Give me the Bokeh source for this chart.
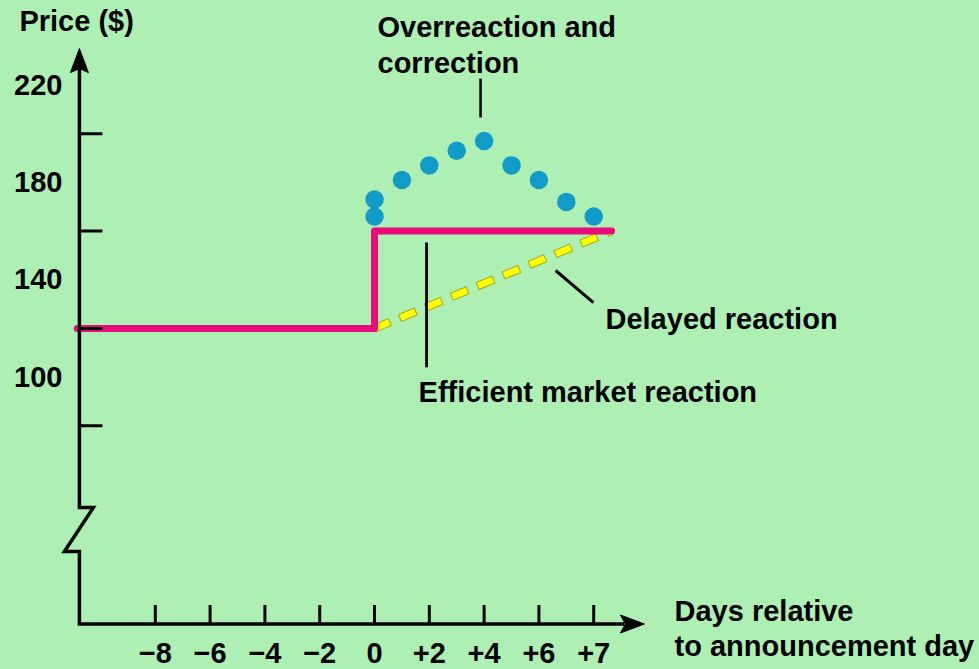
from bokeh.plotting import figure
from bokeh.models import Range1d
from bokeh.core.properties import value
from bokeh.embed import file_html
from bokeh.resources import INLINE

# ---------------- data ----------------
day_tick_pos = [-8, -6, -4, -2, 0, 2, 4, 6, 8]
day_tick_labels = ["\u22128", "\u22126", "\u22124", "\u22122", "0", "+2", "+4", "+6", "+7"]
price_label_values = [220, 180, 140, 100]
price_tick_values = [200, 160, 120, 80]

efficient_x = [-10.85, 0, 0, 8.65]
efficient_y = [120, 120, 160, 160]

delayed_x = [0, 8.65]
delayed_y = [120, 160]

overreaction_x = [0, 0, 1, 2, 3, 4, 5, 6, 7, 8]
overreaction_y = [166, 173, 181, 187, 193, 197, 187, 181, 172, 166]

# ---------------- styling / layout ----------------
BG = "#AEF0B4"
PINK = "#E80C7A"
BLUE = "#129BC9"
YELLOW = "#FFFF00"
OLIVE = "#A8A820"
FONT = value("Liberation Sans")
FS = "29px"
TEXT_SHIFT = -10.5   # correction of the rendered baseline

PX_PER_X = 27.4      # pixels per x unit
PX_PER_Y = 2.433     # pixels per price unit


def dx(px):
    return px / PX_PER_X


def dy(px):
    return px / PX_PER_Y


AX_X = -10.77        # position of the price axis
AX_Y = -1.5          # level of the day axis (broken price axis)
AX_TOP = 235.0
AX_RIGHT = 9.85
BREAK_LO = 28.3
BREAK_HI = 46.4

p = figure(width=979, height=669, x_range=Range1d(-13.65, 22.08),
           y_range=Range1d(-20.2, 254.77), output_backend="svg",
           toolbar_location=None, min_border=0)
p.background_fill_color = BG
p.border_fill_color = BG
p.outline_line_color = None
p.xaxis.visible = False
p.yaxis.visible = False
p.xgrid.visible = False
p.ygrid.visible = False

# delayed reaction (yellow dashed with thin outline)
p.line(delayed_x, delayed_y, line_color=OLIVE, line_width=8.5,
       line_dash="18 10", line_dash_offset=1)
p.line(delayed_x, delayed_y, line_color=YELLOW, line_width=6.5,
       line_dash="16 12")

# efficient market reaction
p.line(efficient_x, efficient_y, line_color=PINK, line_width=7,
       line_join="round", line_cap="round")

# axes with break
axis_xs = [AX_X, AX_X, AX_X + dx(14), AX_X - dx(15), AX_X, AX_X, AX_RIGHT - dx(20)]
axis_ys = [AX_TOP - dy(20), BREAK_HI, BREAK_HI, BREAK_LO, BREAK_LO, AX_Y, AX_Y]
p.line(axis_xs, axis_ys, line_color="black", line_width=3.5, line_join="miter")

# arrow heads
p.patch([AX_X, AX_X + dx(9), AX_X, AX_X - dx(9)],
        [AX_TOP, AX_TOP - dy(24), AX_TOP - dy(20), AX_TOP - dy(24)],
        fill_color="black", line_color="black", line_width=1)
p.patch([AX_RIGHT, AX_RIGHT - dx(24), AX_RIGHT - dx(19), AX_RIGHT - dx(24)],
        [AX_Y, AX_Y + dy(9), AX_Y, AX_Y - dy(9)],
        fill_color="black", line_color="black", line_width=1)

# ticks
p.segment(x0=[AX_X] * len(price_tick_values), y0=price_tick_values,
          x1=[AX_X + dx(23)] * len(price_tick_values), y1=price_tick_values,
          line_color="black", line_width=3)
p.segment(x0=day_tick_pos, y0=[AX_Y] * len(day_tick_pos),
          x1=day_tick_pos, y1=[AX_Y + dy(19)] * len(day_tick_pos),
          line_color="black", line_width=3)

# tick labels
p.text(x=[AX_X] * len(price_label_values), y=price_label_values,
       text=[str(v) for v in price_label_values], x_offset=-17,
       y_offset=10 + TEXT_SHIFT,
       text_align="right", text_baseline="alphabetic", text_font=FONT,
       text_font_size=FS, text_font_style="bold", text_color="black")
p.text(x=day_tick_pos, y=[AX_Y] * len(day_tick_pos), text=day_tick_labels,
       y_offset=39.5 + TEXT_SHIFT, text_align="center",
       text_baseline="alphabetic",
       text_font=FONT, text_font_size=FS, text_font_style="bold",
       text_color="black")

# overreaction dots
p.scatter(overreaction_x, overreaction_y, size=18.5, fill_color=BLUE,
          line_color=None)

# leader lines
p.line([3.87, 3.87], [222.7, 206.7], line_color="black", line_width=2.5)
p.line([1.90, 1.90], [155.3, 104.0], line_color="black", line_width=2.8)
p.line([6.61, 7.99], [143.8, 130.6], line_color="black", line_width=3)

# annotation texts
texts = [
    ("Price ($)", -12.96, 242.0),
    ("Overreaction and", 0.11, 239.4),
    ("correction", 0.11, 224.6),
    ("Delayed reaction", 8.43, 119.5),
    ("Efficient market reaction", 1.61, 89.7),
    ("Days relative", 10.95, -0.3),
    ("to announcement day", 10.95, -14.7),
]
p.text(x=[t[1] for t in texts], y=[t[2] for t in texts],
       text=[t[0] for t in texts], text_align="left", y_offset=TEXT_SHIFT,
       text_baseline="alphabetic", text_font=FONT, text_font_size=FS,
       text_font_style="bold", text_color="black")

template = """
{% block preamble %}
<style>
html, body { margin: 0 !important; padding: 0 !important; overflow: hidden; background: #AEF0B4; }
</style>
{% endblock %}
"""

open("out.html", "w").write(file_html(p, INLINE, template=template))
